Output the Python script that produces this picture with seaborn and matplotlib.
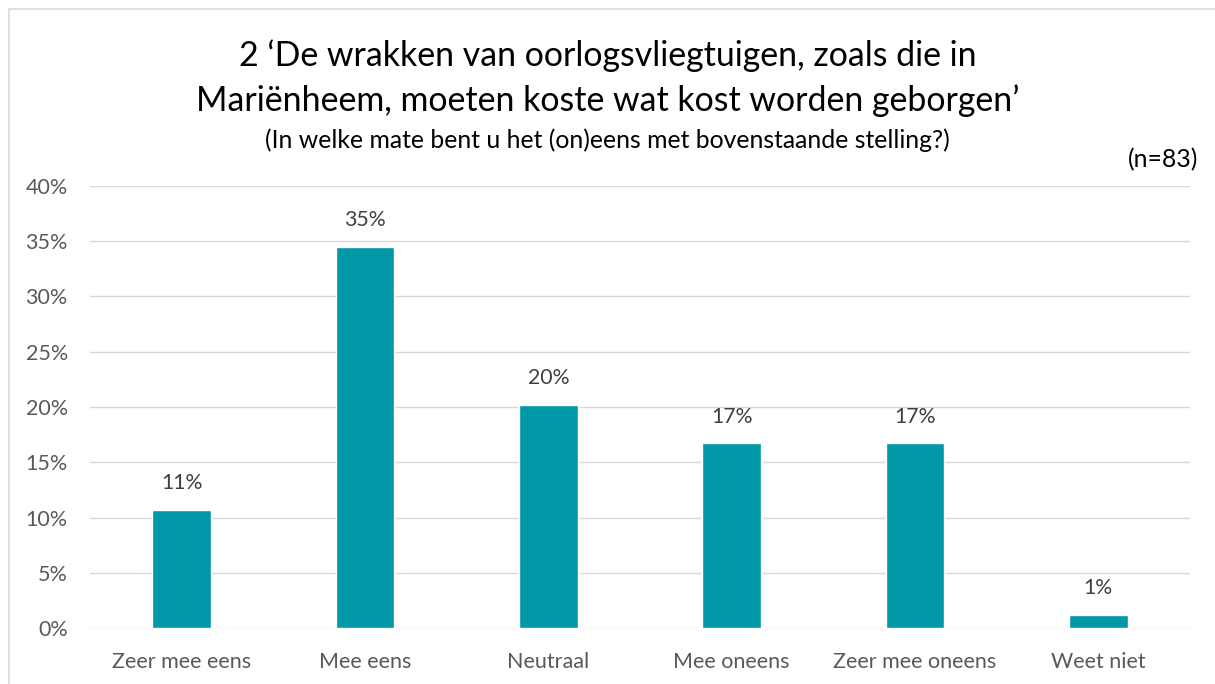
import numpy as np
import pandas as pd
import matplotlib
matplotlib.use("Agg")
import matplotlib.pyplot as plt
import seaborn as sns
from matplotlib.ticker import PercentFormatter
from matplotlib.patches import Rectangle

categories = ["Zeer mee eens", "Mee eens", "Neutraal", "Mee oneens", "Zeer mee oneens", "Weet niet"]
percentages = [10.7, 34.5, 20.2, 16.7, 16.7, 1.2]
labels = ["11%", "35%", "20%", "17%", "17%", "1%"]

title = "2 \u2018De wrakken van oorlogsvliegtuigen, zoals die in\nMari\u00ebnheem, moeten koste wat kost worden geborgen\u2019"
subtitle = "(In welke mate bent u het (on)eens met bovenstaande stelling?)"
n_label = "(n=83)"

sns.set_theme(style="white")
plt.rcParams["font.family"] = ["Lato", "DejaVu Sans"]

df = pd.DataFrame({"cat": categories, "pct": percentages})

fig = plt.figure(figsize=(12.15, 6.84), dpi=100)
ax = fig.add_axes([90 / 1215, 56 / 684, 1100 / 1215, 442 / 684])

sns.barplot(data=df, x="cat", y="pct", color="#0097A7", saturation=1, width=0.32, ax=ax, zorder=3)

for i, (v, lab) in enumerate(zip(percentages, labels)):
    ax.text(i, v + 1.5, lab, ha="center", va="bottom", fontsize=15.3, color="#404040")

ax.set_ylim(0, 40)
ax.set_yticks(np.arange(0, 41, 5))
ax.yaxis.set_major_formatter(PercentFormatter(decimals=0))
ax.grid(axis="y", color="#d9d9d9", linewidth=1, zorder=0)
for s in ax.spines.values():
    s.set_visible(False)
ax.set_xlabel("")
ax.set_ylabel("")
ax.tick_params(axis="both", length=0, labelsize=15.5, labelcolor="#595959")
ax.tick_params(axis="x", pad=17)
ax.tick_params(axis="y", pad=16)

fig.text(0.5, 1 - 78 / 684, title, ha="center", va="center", fontsize=24.4, color="#000000", linespacing=1.45)
fig.text(0.5, 1 - 140 / 684, subtitle, ha="center", va="center", fontsize=17.8, color="#000000")
fig.text(1198 / 1215, 1 - 160 / 684, n_label, ha="right", va="center", fontsize=17.8, color="#000000")

fig.patches.append(Rectangle((9 / 1215, -0.01), 1.1, 1 - 9 / 684 + 0.01, transform=fig.transFigure,
                             fill=False, edgecolor="#d9d9d9", linewidth=1.2))

fig.savefig("out.png", dpi=100)
